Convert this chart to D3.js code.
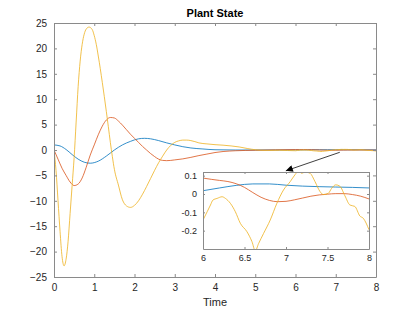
<!DOCTYPE html>
<html>
<head>
<meta charset="utf-8">
<script src="https://cdn.jsdelivr.net/npm/d3@7"></script>
<style>
  body { margin: 0; background: #fff; }
  svg { display: block; font-family: "Liberation Sans", Arial, sans-serif; }
  .axis path, .axis line { stroke: #8a8a8a; }
  .axis text { fill: #262626; }
</style>
</head>
<body>
<svg id="chart"></svg>
<script>
// [time, value] samples
const state1 = [
  [0, 1.0], [0.15, 0.8], [0.3, 0.1], [0.45, -0.9], [0.6, -1.8], [0.75, -2.4], [0.9, -2.6],
  [1.1, -2.2], [1.3, -1.2], [1.5, 0.0], [1.7, 1.0], [1.9, 1.7], [2.1, 2.2], [2.25, 2.3],
  [2.4, 2.2], [2.6, 1.85], [2.8, 1.4], [3.0, 1.0], [3.2, 0.65], [3.4, 0.4], [3.7, 0.2],
  [4.0, 0.05], [4.5, 0.0], [5.0, 0.0], [5.5, 0.01], [6.0, 0.018], [6.2, 0.033], [6.4, 0.047],
  [6.6, 0.055], [6.8, 0.055], [7.0, 0.048], [7.2, 0.043], [7.4, 0.04], [7.6, 0.038],
  [7.8, 0.036], [8.0, 0.033]
];

const state2 = [
  [0, 0], [0.1, -1.8], [0.2, -3.6], [0.3, -5.0], [0.4, -6.3], [0.5, -7.0], [0.6, -6.7],
  [0.7, -5.5], [0.8, -3.4], [0.9, -1.0], [1.0, 1.0], [1.1, 3.0], [1.2, 4.7], [1.3, 5.9],
  [1.4, 6.4], [1.5, 6.3], [1.6, 5.7], [1.7, 4.9], [1.8, 4.0], [1.9, 3.1], [2.0, 2.3],
  [2.1, 1.5], [2.2, 0.7], [2.3, 0.0], [2.4, -0.7], [2.5, -1.3], [2.6, -1.8], [2.7, -2.05],
  [2.8, -2.1], [2.9, -2.05], [3.0, -1.95], [3.2, -1.75], [3.4, -1.45], [3.6, -1.1],
  [3.8, -0.8], [4.0, -0.5], [4.2, -0.3], [4.5, -0.15], [5.0, -0.05], [5.5, 0.03],
  [6.0, 0.087], [6.1, 0.08], [6.2, 0.074], [6.3, 0.068], [6.4, 0.056], [6.5, 0.036],
  [6.6, 0.008], [6.7, -0.018], [6.8, -0.035], [6.9, -0.042], [7.0, -0.04], [7.1, -0.032],
  [7.2, -0.022], [7.3, -0.012], [7.4, -0.005], [7.5, -0.001], [7.6, 0.002], [7.7, 0.002],
  [7.8, -0.003], [7.9, -0.012], [8.0, -0.027]
];

const state3 = [
  [0, 0], [0.05, -4], [0.1, -10], [0.15, -16], [0.2, -21], [0.25, -22.8], [0.3, -21.5],
  [0.35, -18], [0.4, -12.5], [0.45, -7], [0.5, -1.5], [0.55, 5.5], [0.6, 12.5], [0.65, 17.5],
  [0.7, 20.8], [0.75, 22.8], [0.8, 23.8], [0.87, 24.2], [0.95, 23.7], [1.0, 22.5],
  [1.05, 20.8], [1.1, 18.5], [1.15, 16], [1.2, 13.3], [1.25, 10.5], [1.3, 7.6], [1.35, 4.6],
  [1.4, 1.5], [1.45, -1.3], [1.5, -3.8], [1.6, -6.9], [1.7, -9.8], [1.8, -11], [1.9, -11.3],
  [2.0, -10.9], [2.1, -10], [2.2, -8.7], [2.3, -7.2], [2.4, -5.6], [2.5, -4], [2.6, -2.5],
  [2.7, -1.2], [2.8, 0], [2.9, 0.9], [3.0, 1.5], [3.1, 1.8], [3.2, 1.95], [3.3, 1.95],
  [3.4, 1.85], [3.5, 1.65], [3.6, 1.4], [3.8, 1.2], [4.0, 1.05], [4.2, 0.95], [4.4, 0.8],
  [4.6, 0.6], [4.8, 0.3], [5.0, 0.05], [5.3, -0.08], [5.6, -0.05], [5.8, -0.1],
  [6.0, -0.142], [6.05, -0.097], [6.09, -0.06], [6.12, -0.033], [6.17, -0.024],
  [6.23, -0.015], [6.27, -0.024], [6.33, -0.051], [6.39, -0.097], [6.45, -0.16],
  [6.53, -0.206], [6.59, -0.26], [6.63, -0.31], [6.67, -0.27], [6.73, -0.215],
  [6.81, -0.142], [6.89, -0.051], [6.97, 0.022], [7.05, 0.067], [7.11, 0.106],
  [7.15, 0.125], [7.19, 0.113], [7.23, 0.12], [7.29, 0.113], [7.35, 0.067], [7.41, 0.013],
  [7.45, -0.003], [7.51, 0.004], [7.55, 0.031], [7.6, 0.05], [7.65, 0.042], [7.71, -0.01],
  [7.77, -0.06], [7.83, -0.068], [7.89, -0.12], [7.93, -0.132], [8.0, -0.195]
];

const seriesColors = ['#0072BD', '#D95319', '#EDB120'];
const mainXTicks = [0, 1, 2, 3, 4, 5, 6, 7, 8];
const mainYTicks = [-25, -20, -15, -10, -5, 0, 5, 10, 15, 20, 25];
const insetXTicks = [6, 6.5, 7, 7.5, 8];
const insetYTicks = [-0.2, -0.1, 0, 0.1];
const arrowFrom = [7.1, -0.45];
const arrowTo = [5.76, -4.1];

const svgWidth = 415;
const svgHeight = 312;
const main = { left: 54, right: 376, top: 23, bottom: 277 };
const inset = { left: 203, right: 369, top: 172, bottom: 249 };

const svg = d3.select('#chart')
  .attr('width', svgWidth)
  .attr('height', svgHeight);

const defs = svg.append('defs');

function drawPanel(box, xDomain, yDomain, xTicks, yTicks, fmt, fontSize, tickLen, id) {
  const x = d3.scaleLinear().domain(xDomain).range([box.left, box.right]);
  const y = d3.scaleLinear().domain(yDomain).range([box.bottom, box.top]);

  const g = svg.append('g');
  g.append('rect')
    .attr('x', box.left).attr('y', box.top)
    .attr('width', box.right - box.left).attr('height', box.bottom - box.top)
    .attr('fill', '#fff');

  defs.append('clipPath').attr('id', id)
    .append('rect')
    .attr('x', box.left).attr('y', box.top)
    .attr('width', box.right - box.left).attr('height', box.bottom - box.top);

  const line = d3.line()
    .x(d => x(d[0]))
    .y(d => y(d[1]))
    .curve(d3.curveMonotoneX);

  const lines = g.append('g').attr('clip-path', `url(#${id})`);
  [state1, state2, state3].forEach((s, i) => {
    lines.append('path')
      .datum(s.filter(d => d[0] >= xDomain[0] && d[0] <= xDomain[1]))
      .attr('fill', 'none')
      .attr('stroke', seriesColors[i])
      .attr('stroke-width', 0.8)
      .attr('d', line);
  });

  const axes = [
    [d3.axisBottom(x).tickValues(xTicks).tickFormat(fmt), `translate(0,${box.bottom})`],
    [d3.axisTop(x).tickValues(xTicks).tickFormat(''), `translate(0,${box.top})`],
    [d3.axisLeft(y).tickValues(yTicks).tickFormat(fmt), `translate(${box.left},0)`],
    [d3.axisRight(y).tickValues(yTicks).tickFormat(''), `translate(${box.right},0)`]
  ];
  axes.forEach(([ax, tr]) => {
    const a = g.append('g')
      .attr('class', 'axis')
      .attr('transform', tr)
      .call(ax.tickSizeInner(-tickLen).tickSizeOuter(0).tickPadding(tickLen + 4));
    a.selectAll('text').attr('font-size', fontSize).style('font-family', 'Liberation Sans, Arial, sans-serif');
  });
  return { x, y };
}

const mainScales = drawPanel(main, [0, 8], [-25, 25], mainXTicks, mainYTicks,
  d3.format('d'), 10, 3, 'clip-main');

// arrow pointing from the tail of the main plot to the zoomed view
defs.append('marker')
  .attr('id', 'head')
  .attr('viewBox', '0 0 10 10')
  .attr('refX', 10).attr('refY', 5)
  .attr('markerWidth', 10).attr('markerHeight', 7)
  .attr('markerUnits', 'userSpaceOnUse')
  .attr('orient', 'auto')
  .append('path')
  .attr('d', 'M0,0L10,5L0,10z')
  .attr('fill', '#000');

svg.append('line')
  .attr('x1', mainScales.x(arrowFrom[0])).attr('y1', mainScales.y(arrowFrom[1]))
  .attr('x2', mainScales.x(arrowTo[0])).attr('y2', mainScales.y(arrowTo[1]))
  .attr('stroke', '#404040')
  .attr('stroke-width', 1)
  .attr('marker-end', 'url(#head)');

drawPanel(inset, [6, 8], [-0.3, 0.12], insetXTicks, insetYTicks,
  d => (d === 0 ? '0' : String(+d.toFixed(1))), 9, 2, 'clip-inset');

svg.append('text')
  .attr('x', 215).attr('y', 17)
  .attr('text-anchor', 'middle')
  .attr('font-size', 11)
  .attr('font-weight', 'bold')
  .attr('fill', '#000')
  .text('Plant State');

svg.append('text')
  .attr('x', 215).attr('y', 306)
  .attr('text-anchor', 'middle')
  .attr('font-size', 11)
  .attr('fill', '#262626')
  .text('Time');
</script>
</body>
</html>
